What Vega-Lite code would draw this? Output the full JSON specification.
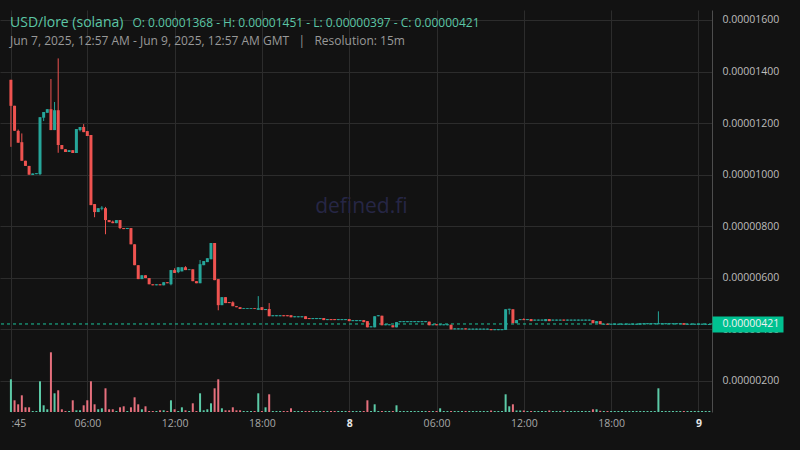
{
  "$schema": "https://vega.github.io/schema/vega-lite/v6.json",
  "width": 712,
  "height": 402,
  "autosize": {"type": "none"},
  "padding": {"left": 0, "top": 10, "right": 88, "bottom": 38},
  "background": "#121212",
  "config": {"view": {"stroke": null}, "font": "Open Sans"},
  "title": {
    "text": "USD/lore (solana)",
    "subtitle": "Jun 7, 2025, 12:57 AM - Jun 9, 2025, 12:57 AM GMT\u00a0\u00a0\u00a0|\u00a0\u00a0\u00a0Resolution: 15m",
    "anchor": "start",
    "frame": "group",
    "orient": "top",
    "offset": -37,
    "dx": 10,
    "color": "#5cc6a6",
    "fontSize": 14,
    "fontWeight": "normal",
    "font": "Open Sans",
    "subtitleColor": "#999999",
    "subtitleFontSize": 12,
    "subtitleFont": "Open Sans",
    "subtitlePadding": 6
  },
  "datasets": {
    "candles": [
      {"t":"2025-06-07T00:45:00Z","o":0.00001368,"h":0.00001368,"l":0.00001108,"c":0.00001267,"v":327,"vs":"b"},
      {"t":"2025-06-07T01:00:00Z","o":0.00001267,"h":0.00001267,"l":0.00001170,"c":0.00001170,"v":117},
      {"t":"2025-06-07T01:15:00Z","o":0.00001170,"h":0.00001175,"l":0.00001124,"c":0.00001124,"v":77},
      {"t":"2025-06-07T01:30:00Z","o":0.00001126,"h":0.00001160,"l":0.00001054,"c":0.00001054,"v":167},
      {"t":"2025-06-07T01:45:00Z","o":0.00001054,"h":0.00001054,"l":0.00001034,"c":0.00001034,"v":47},
      {"t":"2025-06-07T02:00:00Z","o":0.00001034,"h":0.00001034,"l":0.00001000,"c":0.00001000,"v":47},
      {"t":"2025-06-07T02:15:00Z","o":0.00000999,"h":0.00001005,"l":0.00000999,"c":0.00001005,"v":10},
      {"t":"2025-06-07T02:30:00Z","o":0.00001002,"h":0.00001006,"l":0.00001002,"c":0.00001006,"v":10},
      {"t":"2025-06-07T02:45:00Z","o":0.00001002,"h":0.00001223,"l":0.00000998,"c":0.00001223,"v":307},
      {"t":"2025-06-07T03:00:00Z","o":0.00001221,"h":0.00001243,"l":0.00001208,"c":0.00001243,"v":67},
      {"t":"2025-06-07T03:15:00Z","o":0.00001240,"h":0.00001254,"l":0.00001240,"c":0.00001254,"v":27},
      {"t":"2025-06-07T03:30:00Z","o":0.00001254,"h":0.00001371,"l":0.00001173,"c":0.00001173,"v":597},
      {"t":"2025-06-07T03:45:00Z","o":0.00001173,"h":0.00001282,"l":0.00001173,"c":0.00001250,"v":187},
      {"t":"2025-06-07T04:00:00Z","o":0.00001250,"h":0.00001451,"l":0.00001085,"c":0.00001115,"v":217},
      {"t":"2025-06-07T04:15:00Z","o":0.00001115,"h":0.00001115,"l":0.00001099,"c":0.00001099,"v":27},
      {"t":"2025-06-07T04:30:00Z","o":0.00001099,"h":0.00001099,"l":0.00001088,"c":0.00001088,"v":10},
      {"t":"2025-06-07T04:45:00Z","o":0.00001088,"h":0.00001095,"l":0.00001088,"c":0.00001095,"v":10},
      {"t":"2025-06-07T05:00:00Z","o":0.00001095,"h":0.00001095,"l":0.00001084,"c":0.00001084,"v":117},
      {"t":"2025-06-07T05:15:00Z","o":0.00001084,"h":0.00001177,"l":0.00001084,"c":0.00001177,"v":17},
      {"t":"2025-06-07T05:30:00Z","o":0.00001173,"h":0.00001185,"l":0.00001168,"c":0.00001185,"v":17},
      {"t":"2025-06-07T05:45:00Z","o":0.00001185,"h":0.00001196,"l":0.00001165,"c":0.00001165,"v":67},
      {"t":"2025-06-07T06:00:00Z","o":0.00001169,"h":0.00001169,"l":0.00001150,"c":0.00001150,"v":117},
      {"t":"2025-06-07T06:15:00Z","o":0.00001154,"h":0.00001154,"l":0.00000882,"c":0.00000882,"v":307},
      {"t":"2025-06-07T06:30:00Z","o":0.00000886,"h":0.00000886,"l":0.00000835,"c":0.00000855,"v":77},
      {"t":"2025-06-07T06:45:00Z","o":0.00000855,"h":0.00000870,"l":0.00000855,"c":0.00000870,"v":27},
      {"t":"2025-06-07T07:00:00Z","o":0.00000868,"h":0.00000878,"l":0.00000862,"c":0.00000872,"v":37},
      {"t":"2025-06-07T07:15:00Z","o":0.00000870,"h":0.00000875,"l":0.00000769,"c":0.00000824,"v":237},
      {"t":"2025-06-07T07:30:00Z","o":0.00000824,"h":0.00000824,"l":0.00000816,"c":0.00000816,"v":27},
      {"t":"2025-06-07T07:45:00Z","o":0.00000818,"h":0.00000822,"l":0.00000812,"c":0.00000812,"v":27},
      {"t":"2025-06-07T08:00:00Z","o":0.00000812,"h":0.00000824,"l":0.00000812,"c":0.00000824,"v":10},
      {"t":"2025-06-07T08:15:00Z","o":0.00000824,"h":0.00000824,"l":0.00000789,"c":0.00000793,"v":47},
      {"t":"2025-06-07T08:30:00Z","o":0.00000793,"h":0.00000793,"l":0.00000789,"c":0.00000789,"v":57},
      {"t":"2025-06-07T08:45:00Z","o":0.00000789,"h":0.00000793,"l":0.00000789,"c":0.00000793,"v":10},
      {"t":"2025-06-07T09:00:00Z","o":0.00000793,"h":0.00000793,"l":0.00000730,"c":0.00000730,"v":47},
      {"t":"2025-06-07T09:15:00Z","o":0.00000730,"h":0.00000730,"l":0.00000649,"c":0.00000649,"v":147},
      {"t":"2025-06-07T09:30:00Z","o":0.00000649,"h":0.00000649,"l":0.00000595,"c":0.00000595,"v":77},
      {"t":"2025-06-07T09:45:00Z","o":0.00000595,"h":0.00000610,"l":0.00000595,"c":0.00000610,"v":27},
      {"t":"2025-06-07T10:00:00Z","o":0.00000610,"h":0.00000610,"l":0.00000599,"c":0.00000599,"v":57},
      {"t":"2025-06-07T10:15:00Z","o":0.00000599,"h":0.00000599,"l":0.00000575,"c":0.00000575,"v":10},
      {"t":"2025-06-07T10:30:00Z","o":0.00000575,"h":0.00000575,"l":0.00000571,"c":0.00000571,"v":10},
      {"t":"2025-06-07T10:45:00Z","o":0.00000571,"h":0.00000575,"l":0.00000571,"c":0.00000575,"v":10},
      {"t":"2025-06-07T11:00:00Z","o":0.00000575,"h":0.00000575,"l":0.00000571,"c":0.00000571,"v":17},
      {"t":"2025-06-07T11:15:00Z","o":0.00000571,"h":0.00000583,"l":0.00000571,"c":0.00000583,"v":17},
      {"t":"2025-06-07T11:30:00Z","o":0.00000583,"h":0.00000583,"l":0.00000579,"c":0.00000579,"v":10},
      {"t":"2025-06-07T11:45:00Z","o":0.00000575,"h":0.00000630,"l":0.00000571,"c":0.00000630,"v":117},
      {"t":"2025-06-07T12:00:00Z","o":0.00000630,"h":0.00000637,"l":0.00000619,"c":0.00000619,"v":27},
      {"t":"2025-06-07T12:15:00Z","o":0.00000622,"h":0.00000641,"l":0.00000618,"c":0.00000641,"v":10},
      {"t":"2025-06-07T12:30:00Z","o":0.00000625,"h":0.00000641,"l":0.00000625,"c":0.00000641,"v":47},
      {"t":"2025-06-07T12:45:00Z","o":0.00000641,"h":0.00000645,"l":0.00000630,"c":0.00000630,"v":17},
      {"t":"2025-06-07T13:00:00Z","o":0.00000630,"h":0.00000633,"l":0.00000630,"c":0.00000633,"v":10},
      {"t":"2025-06-07T13:15:00Z","o":0.00000633,"h":0.00000633,"l":0.00000587,"c":0.00000587,"v":87},
      {"t":"2025-06-07T13:30:00Z","o":0.00000587,"h":0.00000587,"l":0.00000579,"c":0.00000579,"v":10},
      {"t":"2025-06-07T13:45:00Z","o":0.00000579,"h":0.00000669,"l":0.00000579,"c":0.00000653,"v":187},
      {"t":"2025-06-07T14:00:00Z","o":0.00000649,"h":0.00000665,"l":0.00000649,"c":0.00000665,"v":17},
      {"t":"2025-06-07T14:15:00Z","o":0.00000661,"h":0.00000676,"l":0.00000661,"c":0.00000676,"v":27},
      {"t":"2025-06-07T14:30:00Z","o":0.00000672,"h":0.00000735,"l":0.00000672,"c":0.00000735,"v":87},
      {"t":"2025-06-07T14:45:00Z","o":0.00000735,"h":0.00000735,"l":0.00000591,"c":0.00000591,"v":237},
      {"t":"2025-06-07T15:00:00Z","o":0.00000595,"h":0.00000595,"l":0.00000474,"c":0.00000494,"v":327},
      {"t":"2025-06-07T15:15:00Z","o":0.00000494,"h":0.00000525,"l":0.00000494,"c":0.00000525,"v":37},
      {"t":"2025-06-07T15:30:00Z","o":0.00000525,"h":0.00000525,"l":0.00000502,"c":0.00000502,"v":17},
      {"t":"2025-06-07T15:45:00Z","o":0.00000506,"h":0.00000506,"l":0.00000502,"c":0.00000502,"v":17},
      {"t":"2025-06-07T16:00:00Z","o":0.00000505,"h":0.00000509,"l":0.00000490,"c":0.00000490,"v":47},
      {"t":"2025-06-07T16:15:00Z","o":0.00000490,"h":0.00000490,"l":0.00000486,"c":0.00000486,"v":17},
      {"t":"2025-06-07T16:30:00Z","o":0.00000486,"h":0.00000486,"l":0.00000479,"c":0.00000479,"v":17},
      {"t":"2025-06-07T16:45:00Z","o":0.00000479,"h":0.00000482,"l":0.00000479,"c":0.00000482,"v":10},
      {"t":"2025-06-07T17:00:00Z","o":0.00000479,"h":0.00000482,"l":0.00000479,"c":0.00000482,"v":10},
      {"t":"2025-06-07T17:15:00Z","o":0.00000479,"h":0.00000482,"l":0.00000479,"c":0.00000482,"v":10},
      {"t":"2025-06-07T17:30:00Z","o":0.00000482,"h":0.00000482,"l":0.00000479,"c":0.00000479,"v":10},
      {"t":"2025-06-07T17:45:00Z","o":0.00000476,"h":0.00000529,"l":0.00000476,"c":0.00000482,"v":187},
      {"t":"2025-06-07T18:00:00Z","o":0.00000486,"h":0.00000486,"l":0.00000475,"c":0.00000475,"v":10},
      {"t":"2025-06-07T18:15:00Z","o":0.00000475,"h":0.00000479,"l":0.00000475,"c":0.00000479,"v":47},
      {"t":"2025-06-07T18:30:00Z","o":0.00000479,"h":0.00000502,"l":0.00000451,"c":0.00000451,"v":177},
      {"t":"2025-06-07T18:45:00Z","o":0.00000451,"h":0.00000455,"l":0.00000451,"c":0.00000455,"v":10},
      {"t":"2025-06-07T19:00:00Z","o":0.00000451,"h":0.00000455,"l":0.00000451,"c":0.00000455,"v":10},
      {"t":"2025-06-07T19:15:00Z","o":0.00000451,"h":0.00000455,"l":0.00000451,"c":0.00000455,"v":10},
      {"t":"2025-06-07T19:30:00Z","o":0.00000455,"h":0.00000455,"l":0.00000451,"c":0.00000451,"v":10},
      {"t":"2025-06-07T19:45:00Z","o":0.00000455,"h":0.00000455,"l":0.00000451,"c":0.00000451,"v":10},
      {"t":"2025-06-07T20:00:00Z","o":0.00000455,"h":0.00000455,"l":0.00000447,"c":0.00000447,"v":37},
      {"t":"2025-06-07T20:15:00Z","o":0.00000447,"h":0.00000451,"l":0.00000447,"c":0.00000451,"v":10},
      {"t":"2025-06-07T20:30:00Z","o":0.00000447,"h":0.00000451,"l":0.00000447,"c":0.00000451,"v":10},
      {"t":"2025-06-07T20:45:00Z","o":0.00000447,"h":0.00000451,"l":0.00000447,"c":0.00000451,"v":10},
      {"t":"2025-06-07T21:00:00Z","o":0.00000451,"h":0.00000451,"l":0.00000440,"c":0.00000440,"v":10},
      {"t":"2025-06-07T21:15:00Z","o":0.00000444,"h":0.00000444,"l":0.00000440,"c":0.00000440,"v":10},
      {"t":"2025-06-07T21:30:00Z","o":0.00000440,"h":0.00000444,"l":0.00000440,"c":0.00000444,"v":10},
      {"t":"2025-06-07T21:45:00Z","o":0.00000440,"h":0.00000444,"l":0.00000440,"c":0.00000444,"v":10},
      {"t":"2025-06-07T22:00:00Z","o":0.00000440,"h":0.00000444,"l":0.00000440,"c":0.00000444,"v":10},
      {"t":"2025-06-07T22:15:00Z","o":0.00000444,"h":0.00000444,"l":0.00000436,"c":0.00000436,"v":10},
      {"t":"2025-06-07T22:30:00Z","o":0.00000436,"h":0.00000440,"l":0.00000436,"c":0.00000440,"v":10},
      {"t":"2025-06-07T22:45:00Z","o":0.00000440,"h":0.00000440,"l":0.00000436,"c":0.00000436,"v":10},
      {"t":"2025-06-07T23:00:00Z","o":0.00000440,"h":0.00000440,"l":0.00000436,"c":0.00000436,"v":10},
      {"t":"2025-06-07T23:15:00Z","o":0.00000436,"h":0.00000440,"l":0.00000436,"c":0.00000440,"v":10},
      {"t":"2025-06-07T23:30:00Z","o":0.00000436,"h":0.00000440,"l":0.00000436,"c":0.00000440,"v":10},
      {"t":"2025-06-07T23:45:00Z","o":0.00000436,"h":0.00000440,"l":0.00000436,"c":0.00000440,"v":10},
      {"t":"2025-06-08T00:00:00Z","o":0.00000440,"h":0.00000440,"l":0.00000432,"c":0.00000432,"v":10},
      {"t":"2025-06-08T00:15:00Z","o":0.00000432,"h":0.00000436,"l":0.00000432,"c":0.00000436,"v":10},
      {"t":"2025-06-08T00:30:00Z","o":0.00000432,"h":0.00000436,"l":0.00000432,"c":0.00000436,"v":10},
      {"t":"2025-06-08T00:45:00Z","o":0.00000432,"h":0.00000436,"l":0.00000432,"c":0.00000436,"v":10},
      {"t":"2025-06-08T01:00:00Z","o":0.00000436,"h":0.00000436,"l":0.00000428,"c":0.00000428,"v":10},
      {"t":"2025-06-08T01:15:00Z","o":0.00000432,"h":0.00000432,"l":0.00000408,"c":0.00000408,"v":117},
      {"t":"2025-06-08T01:30:00Z","o":0.00000408,"h":0.00000412,"l":0.00000408,"c":0.00000412,"v":10},
      {"t":"2025-06-08T01:45:00Z","o":0.00000408,"h":0.00000451,"l":0.00000408,"c":0.00000451,"v":77},
      {"t":"2025-06-08T02:00:00Z","o":0.00000451,"h":0.00000455,"l":0.00000451,"c":0.00000455,"v":10},
      {"t":"2025-06-08T02:15:00Z","o":0.00000453,"h":0.00000453,"l":0.00000416,"c":0.00000416,"v":10},
      {"t":"2025-06-08T02:30:00Z","o":0.00000416,"h":0.00000420,"l":0.00000416,"c":0.00000420,"v":10},
      {"t":"2025-06-08T02:45:00Z","o":0.00000416,"h":0.00000420,"l":0.00000416,"c":0.00000420,"v":10},
      {"t":"2025-06-08T03:00:00Z","o":0.00000416,"h":0.00000416,"l":0.00000408,"c":0.00000408,"v":10},
      {"t":"2025-06-08T03:15:00Z","o":0.00000408,"h":0.00000428,"l":0.00000408,"c":0.00000428,"v":67},
      {"t":"2025-06-08T03:30:00Z","o":0.00000428,"h":0.00000432,"l":0.00000428,"c":0.00000432,"v":10},
      {"t":"2025-06-08T03:45:00Z","o":0.00000428,"h":0.00000432,"l":0.00000428,"c":0.00000432,"v":10},
      {"t":"2025-06-08T04:00:00Z","o":0.00000428,"h":0.00000432,"l":0.00000428,"c":0.00000432,"v":10},
      {"t":"2025-06-08T04:15:00Z","o":0.00000428,"h":0.00000432,"l":0.00000428,"c":0.00000432,"v":10},
      {"t":"2025-06-08T04:30:00Z","o":0.00000428,"h":0.00000432,"l":0.00000428,"c":0.00000432,"v":10},
      {"t":"2025-06-08T04:45:00Z","o":0.00000428,"h":0.00000432,"l":0.00000428,"c":0.00000432,"v":10},
      {"t":"2025-06-08T05:00:00Z","o":0.00000428,"h":0.00000432,"l":0.00000428,"c":0.00000432,"v":10},
      {"t":"2025-06-08T05:15:00Z","o":0.00000428,"h":0.00000432,"l":0.00000428,"c":0.00000432,"v":10},
      {"t":"2025-06-08T05:30:00Z","o":0.00000430,"h":0.00000430,"l":0.00000416,"c":0.00000416,"v":10},
      {"t":"2025-06-08T05:45:00Z","o":0.00000416,"h":0.00000420,"l":0.00000416,"c":0.00000420,"v":10},
      {"t":"2025-06-08T06:00:00Z","o":0.00000420,"h":0.00000420,"l":0.00000416,"c":0.00000416,"v":10},
      {"t":"2025-06-08T06:15:00Z","o":0.00000416,"h":0.00000420,"l":0.00000416,"c":0.00000420,"v":37},
      {"t":"2025-06-08T06:30:00Z","o":0.00000416,"h":0.00000420,"l":0.00000416,"c":0.00000420,"v":10},
      {"t":"2025-06-08T06:45:00Z","o":0.00000416,"h":0.00000420,"l":0.00000416,"c":0.00000420,"v":10},
      {"t":"2025-06-08T07:00:00Z","o":0.00000418,"h":0.00000418,"l":0.00000400,"c":0.00000400,"v":10},
      {"t":"2025-06-08T07:15:00Z","o":0.00000400,"h":0.00000404,"l":0.00000400,"c":0.00000404,"v":10},
      {"t":"2025-06-08T07:30:00Z","o":0.00000400,"h":0.00000404,"l":0.00000400,"c":0.00000404,"v":10},
      {"t":"2025-06-08T07:45:00Z","o":0.00000400,"h":0.00000404,"l":0.00000400,"c":0.00000404,"v":10},
      {"t":"2025-06-08T08:00:00Z","o":0.00000404,"h":0.00000404,"l":0.00000400,"c":0.00000400,"v":10},
      {"t":"2025-06-08T08:15:00Z","o":0.00000399,"h":0.00000403,"l":0.00000399,"c":0.00000403,"v":10},
      {"t":"2025-06-08T08:30:00Z","o":0.00000399,"h":0.00000403,"l":0.00000399,"c":0.00000403,"v":10},
      {"t":"2025-06-08T08:45:00Z","o":0.00000399,"h":0.00000403,"l":0.00000399,"c":0.00000403,"v":10},
      {"t":"2025-06-08T09:00:00Z","o":0.00000399,"h":0.00000403,"l":0.00000399,"c":0.00000403,"v":10},
      {"t":"2025-06-08T09:15:00Z","o":0.00000399,"h":0.00000403,"l":0.00000399,"c":0.00000403,"v":10},
      {"t":"2025-06-08T09:30:00Z","o":0.00000399,"h":0.00000403,"l":0.00000399,"c":0.00000403,"v":10},
      {"t":"2025-06-08T09:45:00Z","o":0.00000401,"h":0.00000401,"l":0.00000397,"c":0.00000397,"v":15},
      {"t":"2025-06-08T10:00:00Z","o":0.00000397,"h":0.00000401,"l":0.00000397,"c":0.00000401,"v":10},
      {"t":"2025-06-08T10:15:00Z","o":0.00000397,"h":0.00000401,"l":0.00000397,"c":0.00000401,"v":10},
      {"t":"2025-06-08T10:30:00Z","o":0.00000397,"h":0.00000401,"l":0.00000397,"c":0.00000401,"v":10},
      {"t":"2025-06-08T10:45:00Z","o":0.00000398,"h":0.00000478,"l":0.00000398,"c":0.00000478,"v":177},
      {"t":"2025-06-08T11:00:00Z","o":0.00000476,"h":0.00000480,"l":0.00000458,"c":0.00000480,"v":57},
      {"t":"2025-06-08T11:15:00Z","o":0.00000478,"h":0.00000478,"l":0.00000424,"c":0.00000424,"v":77},
      {"t":"2025-06-08T11:30:00Z","o":0.00000424,"h":0.00000436,"l":0.00000424,"c":0.00000436,"v":15},
      {"t":"2025-06-08T11:45:00Z","o":0.00000436,"h":0.00000440,"l":0.00000436,"c":0.00000440,"v":15},
      {"t":"2025-06-08T12:00:00Z","o":0.00000440,"h":0.00000443,"l":0.00000436,"c":0.00000436,"v":15},
      {"t":"2025-06-08T12:15:00Z","o":0.00000436,"h":0.00000440,"l":0.00000436,"c":0.00000440,"v":10},
      {"t":"2025-06-08T12:30:00Z","o":0.00000440,"h":0.00000440,"l":0.00000432,"c":0.00000432,"v":10},
      {"t":"2025-06-08T12:45:00Z","o":0.00000434,"h":0.00000438,"l":0.00000434,"c":0.00000438,"v":10},
      {"t":"2025-06-08T13:00:00Z","o":0.00000434,"h":0.00000438,"l":0.00000434,"c":0.00000438,"v":10},
      {"t":"2025-06-08T13:15:00Z","o":0.00000434,"h":0.00000438,"l":0.00000434,"c":0.00000438,"v":10},
      {"t":"2025-06-08T13:30:00Z","o":0.00000432,"h":0.00000440,"l":0.00000432,"c":0.00000440,"v":10},
      {"t":"2025-06-08T13:45:00Z","o":0.00000440,"h":0.00000440,"l":0.00000432,"c":0.00000432,"v":15},
      {"t":"2025-06-08T14:00:00Z","o":0.00000434,"h":0.00000438,"l":0.00000434,"c":0.00000438,"v":10},
      {"t":"2025-06-08T14:15:00Z","o":0.00000434,"h":0.00000438,"l":0.00000434,"c":0.00000438,"v":10},
      {"t":"2025-06-08T14:30:00Z","o":0.00000434,"h":0.00000438,"l":0.00000434,"c":0.00000438,"v":10},
      {"t":"2025-06-08T14:45:00Z","o":0.00000438,"h":0.00000438,"l":0.00000434,"c":0.00000434,"v":15},
      {"t":"2025-06-08T15:00:00Z","o":0.00000434,"h":0.00000438,"l":0.00000434,"c":0.00000438,"v":10},
      {"t":"2025-06-08T15:15:00Z","o":0.00000434,"h":0.00000438,"l":0.00000434,"c":0.00000438,"v":10},
      {"t":"2025-06-08T15:30:00Z","o":0.00000434,"h":0.00000438,"l":0.00000434,"c":0.00000438,"v":10},
      {"t":"2025-06-08T15:45:00Z","o":0.00000434,"h":0.00000438,"l":0.00000434,"c":0.00000438,"v":10},
      {"t":"2025-06-08T16:00:00Z","o":0.00000434,"h":0.00000438,"l":0.00000434,"c":0.00000438,"v":10},
      {"t":"2025-06-08T16:15:00Z","o":0.00000434,"h":0.00000438,"l":0.00000434,"c":0.00000438,"v":10},
      {"t":"2025-06-08T16:30:00Z","o":0.00000434,"h":0.00000438,"l":0.00000434,"c":0.00000438,"v":10},
      {"t":"2025-06-08T16:45:00Z","o":0.00000436,"h":0.00000436,"l":0.00000424,"c":0.00000424,"v":27},
      {"t":"2025-06-08T17:00:00Z","o":0.00000424,"h":0.00000432,"l":0.00000424,"c":0.00000432,"v":27},
      {"t":"2025-06-08T17:15:00Z","o":0.00000432,"h":0.00000432,"l":0.00000420,"c":0.00000420,"v":12},
      {"t":"2025-06-08T17:30:00Z","o":0.00000418,"h":0.00000422,"l":0.00000418,"c":0.00000422,"v":10},
      {"t":"2025-06-08T17:45:00Z","o":0.00000422,"h":0.00000422,"l":0.00000418,"c":0.00000418,"v":10},
      {"t":"2025-06-08T18:00:00Z","o":0.00000418,"h":0.00000422,"l":0.00000418,"c":0.00000422,"v":10},
      {"t":"2025-06-08T18:15:00Z","o":0.00000418,"h":0.00000422,"l":0.00000418,"c":0.00000422,"v":10},
      {"t":"2025-06-08T18:30:00Z","o":0.00000418,"h":0.00000422,"l":0.00000418,"c":0.00000422,"v":10},
      {"t":"2025-06-08T18:45:00Z","o":0.00000418,"h":0.00000422,"l":0.00000418,"c":0.00000422,"v":10},
      {"t":"2025-06-08T19:00:00Z","o":0.00000418,"h":0.00000422,"l":0.00000418,"c":0.00000422,"v":10},
      {"t":"2025-06-08T19:15:00Z","o":0.00000418,"h":0.00000422,"l":0.00000418,"c":0.00000422,"v":10},
      {"t":"2025-06-08T19:30:00Z","o":0.00000418,"h":0.00000422,"l":0.00000418,"c":0.00000422,"v":10},
      {"t":"2025-06-08T19:45:00Z","o":0.00000418,"h":0.00000422,"l":0.00000418,"c":0.00000422,"v":10},
      {"t":"2025-06-08T20:00:00Z","o":0.00000418,"h":0.00000424,"l":0.00000418,"c":0.00000424,"v":10},
      {"t":"2025-06-08T20:15:00Z","o":0.00000420,"h":0.00000424,"l":0.00000420,"c":0.00000424,"v":10},
      {"t":"2025-06-08T20:30:00Z","o":0.00000420,"h":0.00000424,"l":0.00000420,"c":0.00000424,"v":10},
      {"t":"2025-06-08T20:45:00Z","o":0.00000420,"h":0.00000424,"l":0.00000420,"c":0.00000424,"v":10},
      {"t":"2025-06-08T21:00:00Z","o":0.00000420,"h":0.00000424,"l":0.00000420,"c":0.00000424,"v":10},
      {"t":"2025-06-08T21:15:00Z","o":0.00000420,"h":0.00000470,"l":0.00000420,"c":0.00000424,"v":237},
      {"t":"2025-06-08T21:30:00Z","o":0.00000420,"h":0.00000424,"l":0.00000420,"c":0.00000424,"v":10},
      {"t":"2025-06-08T21:45:00Z","o":0.00000420,"h":0.00000424,"l":0.00000420,"c":0.00000424,"v":10},
      {"t":"2025-06-08T22:00:00Z","o":0.00000420,"h":0.00000424,"l":0.00000420,"c":0.00000424,"v":10},
      {"t":"2025-06-08T22:15:00Z","o":0.00000420,"h":0.00000424,"l":0.00000420,"c":0.00000424,"v":10},
      {"t":"2025-06-08T22:30:00Z","o":0.00000420,"h":0.00000424,"l":0.00000420,"c":0.00000424,"v":10},
      {"t":"2025-06-08T22:45:00Z","o":0.00000420,"h":0.00000424,"l":0.00000420,"c":0.00000424,"v":10},
      {"t":"2025-06-08T23:00:00Z","o":0.00000424,"h":0.00000424,"l":0.00000418,"c":0.00000418,"v":10},
      {"t":"2025-06-08T23:15:00Z","o":0.00000418,"h":0.00000422,"l":0.00000418,"c":0.00000422,"v":10},
      {"t":"2025-06-08T23:30:00Z","o":0.00000418,"h":0.00000422,"l":0.00000418,"c":0.00000422,"v":10},
      {"t":"2025-06-08T23:45:00Z","o":0.00000418,"h":0.00000422,"l":0.00000418,"c":0.00000422,"v":10},
      {"t":"2025-06-09T00:00:00Z","o":0.00000418,"h":0.00000422,"l":0.00000418,"c":0.00000422,"v":10},
      {"t":"2025-06-09T00:15:00Z","o":0.00000418,"h":0.00000422,"l":0.00000418,"c":0.00000422,"v":10},
      {"t":"2025-06-09T00:30:00Z","o":0.00000418,"h":0.00000422,"l":0.00000418,"c":0.00000422,"v":10},
      {"t":"2025-06-09T00:45:00Z","o":0.00000417,"h":0.00000421,"l":0.00000417,"c":0.00000421,"v":10}
    ]
  },
  "data": {"name": "candles"},
  "layer": [
    {
      "mark": {"type": "bar", "width": 2},
      "encoding": {
        "x": {
          "field": "t", "type": "temporal",
          "scale": {"type": "utc", "padding": 0, "domain": [{"year": 2025, "month": 6, "date": 7, "hours": 0, "minutes": 0, "utc": true}, {"year": 2025, "month": 6, "date": 9, "hours": 0, "minutes": 56, "utc": true}]},
          "axis": {
            "orient": "top", "title": "O: 0.00001368 - H: 0.00001451 - L: 0.00000397 - C: 0.00000421",
            "labels": false, "ticks": false, "domain": false, "grid": false,
            "titleX": 132, "titleY": 16, "titleAlign": "left", "titleAnchor": "start", "titleBaseline": "alphabetic",
            "titleColor": "#5cc6a6", "titleFontSize": 12, "titleFontWeight": "normal", "titleFont": "Open Sans"
          }
        },
        "y": {"field": "v", "type": "quantitative", "scale": {"domain": [0, 4020], "nice": false}, "axis": null},
        "color": {"condition": {"test": "datum.c > datum.o || datum.vs == 'b'", "value": "#5ccaa7"}, "value": "#e6707d"}
      }
    },
    {
      "layer": [
        {
          "data": {"values": [{"label": "defined.fi"}]},
          "mark": {"type": "text", "fontSize": 21, "font": "Open Sans", "color": "#262645", "align": "center", "baseline": "alphabetic"},
          "encoding": {
            "x": {"datum": {"year": 2025, "month": 6, "date": 8, "hours": 0, "minutes": 50, "utc": true}, "type": "temporal", "scale": {"type": "utc", "padding": 0}},
            "y": {"datum": 0.00000850, "type": "quantitative", "axis": null},
            "text": {"field": "label"}
          }
        },
        {
          "data": {"values": [{"price": 0.00000421}]},
          "mark": {"type": "rule", "color": "#1cc49b", "strokeWidth": 1, "strokeDash": [3, 3]},
          "encoding": {
            "y": {
              "field": "price", "type": "quantitative",
              "axis": {
                "orient": "right", "values": [0.00000421], "format": ".8f", "title": null,
                "grid": false, "domain": false, "ticks": true, "tickSize": 71, "tickWidth": 16, "tickColor": "#00c191",
                "labelColor": "#f2f2f2", "labelFontSize": 10.5, "labelFont": "Open Sans", "labelPadding": -61,
                "labelAlign": "left", "labelBaseline": "middle", "zindex": 2
              }
            }
          }
        },
        {
          "mark": {"type": "rule", "strokeWidth": 1},
          "encoding": {
            "x": {
              "field": "t", "type": "temporal",
              "scale": {"type": "utc", "padding": 0, "domain": [{"year": 2025, "month": 6, "date": 7, "hours": 0, "minutes": 0, "utc": true}, {"year": 2025, "month": 6, "date": 9, "hours": 0, "minutes": 56, "utc": true}]},
              "axis": {
                "orient": "bottom", "title": null,
                "values": [
                  {"year": 2025, "month": 6, "date": 7, "hours": 0, "minutes": 45, "utc": true},
                  {"year": 2025, "month": 6, "date": 7, "hours": 6, "utc": true},
                  {"year": 2025, "month": 6, "date": 7, "hours": 12, "utc": true},
                  {"year": 2025, "month": 6, "date": 7, "hours": 18, "utc": true},
                  {"year": 2025, "month": 6, "date": 8, "hours": 0, "utc": true},
                  {"year": 2025, "month": 6, "date": 8, "hours": 6, "utc": true},
                  {"year": 2025, "month": 6, "date": 8, "hours": 12, "utc": true},
                  {"year": 2025, "month": 6, "date": 8, "hours": 18, "utc": true},
                  {"year": 2025, "month": 6, "date": 9, "hours": 0, "utc": true}
                ],
                "labelExpr": "utchours(datum.value) == 0 && utcminutes(datum.value) == 0 ? utcFormat(datum.value, '%-d') : (utcminutes(datum.value) == 45 ? ':45' : utcFormat(datum.value, '%H:%M'))",
                "labelAlign": {"condition": {"test": "utcminutes(datum.value) == 45", "value": "left"}, "value": "center"},
                "labelFontWeight": {"condition": {"test": "utchours(datum.value) == 0 && utcminutes(datum.value) == 0", "value": "bold"}, "value": "normal"},
                "labelColor": {"condition": {"test": "utchours(datum.value) == 0 && utcminutes(datum.value) == 0", "value": "#e6e6e6"}, "value": "#a8a8a8"},
                "labelFontSize": 10.5, "labelFont": "Open Sans", "labelPadding": 6,
                "labelFlush": false, "labelOverlap": false, "labelBound": false,
                "grid": true, "gridColor": "#2c2c2c", "domain": false, "ticks": false
              }
            },
            "y": {
              "field": "l", "type": "quantitative",
              "scale": {"domain": [0.000000796, 0.000016387], "nice": false, "zero": false},
              "axis": {
                "orient": "right", "title": null,
                "values": [0.000002, 0.000004, 0.000006, 0.000008, 0.00001, 0.000012, 0.000014, 0.000016],
                "format": ".8f", "grid": true, "gridColor": "#2c2c2c", "domain": true, "domainColor": "#4d4d4d",
                "ticks": false, "labelPadding": 10, "labelColor": "#bdbdbd", "labelFontSize": 10.5, "labelFont": "Open Sans",
                "labelAlign": "left", "labelBaseline": "middle"
              }
            },
            "y2": {"field": "h"},
            "color": {"condition": {"test": "datum.c > datum.o", "value": "#26a69a"}, "value": "#ef5350"}
          }
        },
        {
          "mark": {"type": "bar", "width": 3},
          "encoding": {
            "x": {"field": "t", "type": "temporal", "scale": {"type": "utc", "padding": 0}},
            "y": {"field": "o", "type": "quantitative", "axis": null},
            "y2": {"field": "c"},
            "color": {"condition": {"test": "datum.c > datum.o", "value": "#26a69a"}, "value": "#ef5350"}
          }
        }
      ],
      "resolve": {"axis": {"y": "independent"}}
    }
  ],
  "resolve": {"scale": {"y": "independent"}, "axis": {"x": "independent"}}
}
